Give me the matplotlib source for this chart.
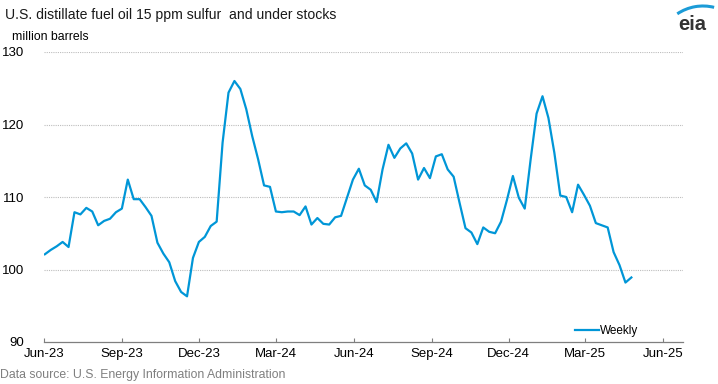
import numpy as np
import pandas as pd
import matplotlib
matplotlib.use("Agg")
import matplotlib.pyplot as plt
from matplotlib.patches import Arc

# weekly stocks, million barrels
start_date = "2023-06-02"
stocks = [
    102.1, 102.7, 103.2, 103.8, 103.1, 107.9, 107.6, 108.5, 108.0, 106.1,
    106.7, 107.0, 107.9, 108.4, 112.4, 109.7, 109.7, 108.6, 107.4, 103.7,
    102.2, 101.0, 98.4, 96.9, 96.3, 101.6, 103.8, 104.5, 106.0, 106.6,
    117.5, 124.4, 126.0, 124.9, 122.1, 118.4, 115.2, 111.6, 111.4, 108.0,
    107.9, 108.0, 108.0, 107.5, 108.7, 106.2, 107.1, 106.3, 106.2, 107.2,
    107.4, 109.9, 112.4, 113.9, 111.6, 111.0, 109.3,
    113.8, 117.2, 115.4, 116.7, 117.4, 116.0, 112.4, 114.0, 112.6, 115.6,
    115.9, 113.8, 112.8, 109.2, 105.7, 105.1, 103.5, 105.8, 105.2, 105.0,
    106.6, 109.6, 112.9, 109.9, 108.4, 115.2, 121.5, 123.9, 120.9, 116.1,
    110.2, 110.0, 107.9, 111.7, 110.3, 108.8, 106.4, 106.1, 105.8, 102.4,
    100.6, 98.2, 98.9,
]
dates = pd.date_range(start_date, periods=len(stocks), freq="7D")

tick_dates = pd.date_range("2023-06-01", "2025-06-01", freq="3MS")
tick_labels = [d.strftime("%b-%y") for d in tick_dates]
y_ticks = [90, 100, 110, 120, 130]

plt.rcParams["font.family"] = ["Liberation Sans", "DejaVu Sans"]

fig = plt.figure(figsize=(7.18, 3.84), dpi=100)
ax = fig.add_axes([44 / 718, 1 - 342 / 384, (683 - 44) / 718, (342 - 52) / 384])

ax.plot(dates, stocks, color="#0096d7", lw=1.6, label="Weekly")

ax.set_ylim(90, 130)
ax.set_yticks(y_ticks)
ax.set_xlim(pd.Timestamp("2023-06-01"), pd.Timestamp("2025-06-25"))
ax.set_xticks(tick_dates)
ax.set_xticklabels(tick_labels)

for y in y_ticks[1:]:
    ax.axhline(y, color="#bdbdbd", lw=0.8, ls=(0, (1, 1)), zorder=0)

for s in ["top", "right", "left"]:
    ax.spines[s].set_visible(False)
ax.spines["bottom"].set_color("#7f7f7f")
ax.spines["bottom"].set_linewidth(0.9)
ax.tick_params(axis="x", direction="in", length=3, color="#7f7f7f", labelsize=9.5, pad=4)
ax.tick_params(axis="y", length=0, labelsize=9.5, pad=14)

leg = ax.legend(loc="lower right", bbox_to_anchor=(0.947, -0.02), frameon=False,
                fontsize=8.5, handlelength=2.0, handletextpad=0.1)

fig.text(5 / 718, 1 - 15 / 384, "U.S. distillate fuel oil 15 ppm sulfur  and under stocks",
         fontsize=10.1, va="center", ha="left", color="#1a1a1a")
fig.text(12 / 718, 1 - 37 / 384, "million barrels", fontsize=8.8, va="center", ha="left")
fig.text(0, 1 - 375 / 384, "Data source: U.S. Energy Information Administration",
         fontsize=8.8, va="center", ha="left", color="#7f7f7f")

# eia logo
fig.text(706 / 718, 1 - 24 / 384, "eia", fontsize=14.5, fontweight="bold", ha="right",
         va="center", color="#333333")
logo = fig.add_axes([640 / 718, 1 - 30 / 384, 78 / 718, 28 / 384])
logo.set_xlim(0, 78)
logo.set_ylim(0, 28)
logo.axis("off")
logo.add_patch(Arc((63, -22), 92, 92, theta1=76, theta2=124, color="#1b9bd7", lw=2.2))

fig.savefig("out.png", dpi=100)
